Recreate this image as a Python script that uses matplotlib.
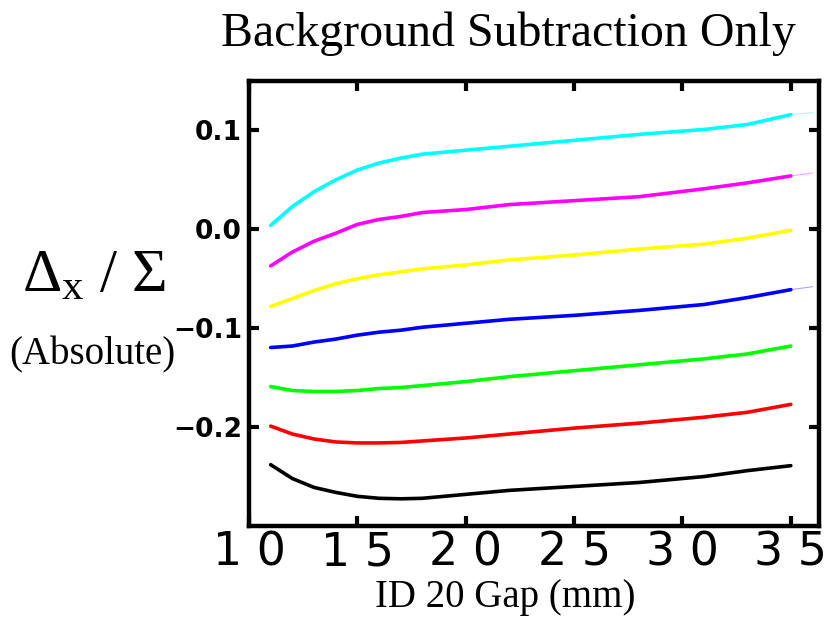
import matplotlib
matplotlib.use('agg')
import matplotlib.pyplot as plt

# gap values (mm) where the curves were sampled
gap = [11, 12, 13, 14, 15, 16, 17, 18, 20, 22, 25, 28, 31, 33, 35]

cyan_vals = [0.004, 0.023, 0.038, 0.050, 0.060, 0.067, 0.072, 0.076, 0.080,
             0.084, 0.090, 0.096, 0.101, 0.106, 0.116]
magenta_vals = [-0.037, -0.023, -0.012, -0.004, 0.005, 0.010, 0.013, 0.017, 0.020,
                0.025, 0.029, 0.033, 0.041, 0.047, 0.054]
yellow_vals = [-0.078, -0.070, -0.062, -0.055, -0.050, -0.046, -0.043, -0.040, -0.036,
               -0.031, -0.026, -0.020, -0.015, -0.009, -0.001]
blue_vals = [-0.1195, -0.118, -0.114, -0.111, -0.107, -0.104, -0.102, -0.099, -0.095,
             -0.091, -0.087, -0.082, -0.076, -0.069, -0.061]
green_vals = [-0.159, -0.163, -0.164, -0.164, -0.163, -0.161, -0.160, -0.158, -0.154,
              -0.149, -0.143, -0.137, -0.131, -0.126, -0.118]
red_vals = [-0.199, -0.207, -0.212, -0.215, -0.216, -0.216, -0.2155, -0.214, -0.211,
            -0.207, -0.201, -0.196, -0.190, -0.185, -0.177]
black_vals = [-0.238, -0.252, -0.261, -0.266, -0.270, -0.272, -0.2725, -0.272, -0.268,
              -0.264, -0.260, -0.256, -0.250, -0.244, -0.239]

# faint short tails past 35 mm on three of the curves
tail_gap = [35, 36]
cyan_tail = [0.116, 0.118]
magenta_tail = [0.054, 0.057]
blue_tail = [-0.061, -0.058]

xticks = [10, 15, 20, 25, 30, 35]
yticks = [0.1, 0.0, -0.1, -0.2]

plt.rcParams['mathtext.fontset'] = 'custom'
plt.rcParams['mathtext.rm'] = 'Liberation Serif'
plt.rcParams['mathtext.it'] = 'Liberation Serif:italic'
serif = 'Liberation Serif'

fig = plt.figure(figsize=(8.32, 6.34), dpi=100)
ax = fig.add_axes([249/832, 108/634, 570/832, 445/634])

series = [(cyan_vals, '#00ffff'), (magenta_vals, '#ff00ff'), (yellow_vals, '#ffff00'),
          (blue_vals, '#0000ff'), (green_vals, '#00ff00'), (red_vals, '#ff0000'),
          (black_vals, '#000000')]
for vals, col in series:
    ax.plot(gap, vals, color=col, lw=2.6, solid_capstyle='round', solid_joinstyle='round')

for vals, col in [(cyan_tail, '#00ffff'), (magenta_tail, '#ff00ff'), (blue_tail, '#0000ff')]:
    ax.plot(tail_gap, vals, color=col, lw=0.8, alpha=0.35)

ax.set_xlim(10, 36.3)
ax.set_ylim(-0.3, 0.15)

ax.set_xticks(xticks)
ax.set_xticklabels([' '.join(str(v)) for v in xticks], fontsize=33,
                   family='DejaVu Sans')
ax.set_yticks(yticks)
ax.set_yticklabels([('%.1f' % v).replace('-', '\u2212') for v in yticks], fontsize=19,
                   family='DejaVu Sans', fontweight='bold')

ax.tick_params(axis='both', direction='in', length=7, width=3, top=True, right=True)
ax.tick_params(axis='x', pad=3)
ax.tick_params(axis='y', pad=5)
for s in ax.spines.values():
    s.set_linewidth(3.2)

fig.text(508/832, 1 - 34/634, 'Background Subtraction Only', fontsize=34.5,
         family=serif, ha='center', va='center')
fig.text(94/832, 1 - 275/634, r'$\Delta_{\mathrm{x}}\ /\ \Sigma$', fontsize=44,
         ha='center', va='center')
fig.text(92/832, 1 - 355/634, '(Absolute)', fontsize=28, family=serif,
         ha='center', va='center')
fig.text(505/832, 1 - 597/634, 'ID 20 Gap (mm)', fontsize=28, family=serif,
         ha='center', va='center')

plt.savefig('out.png', dpi=100)
